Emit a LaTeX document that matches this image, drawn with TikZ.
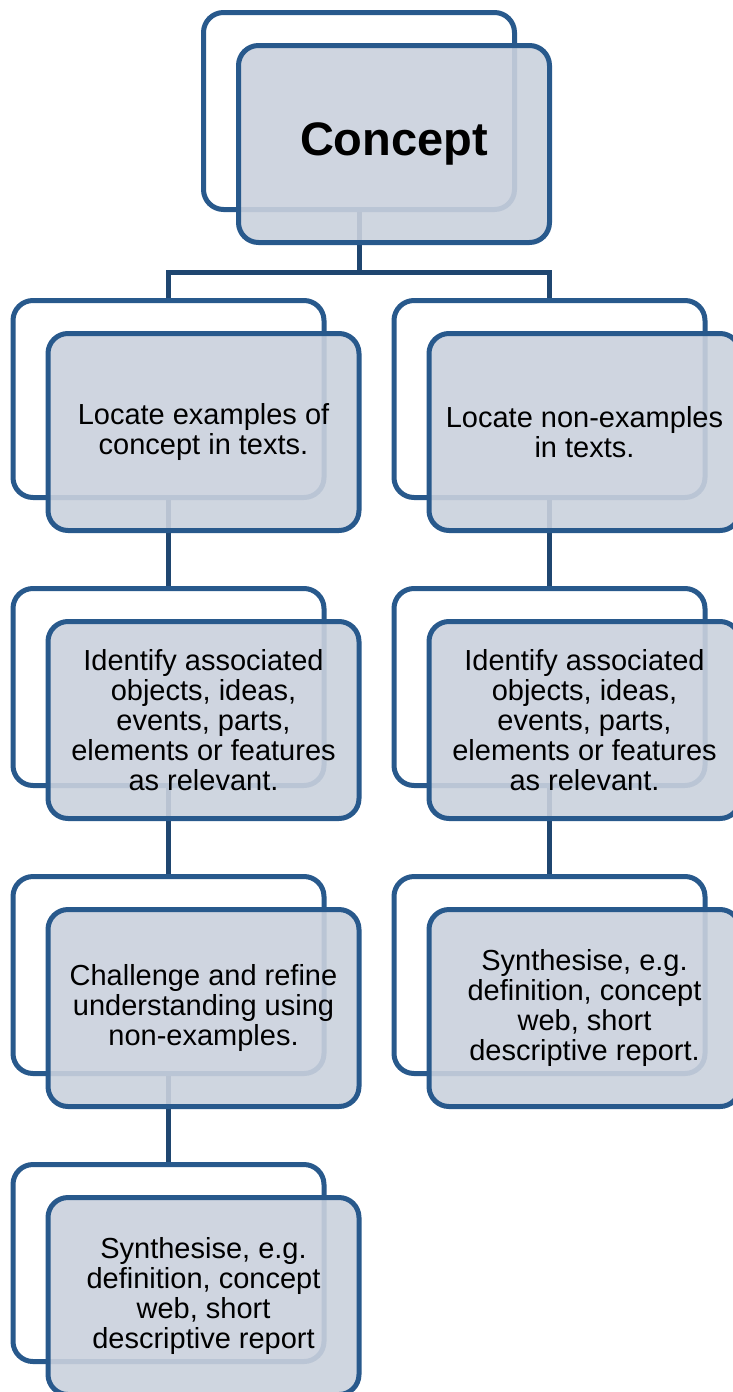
\documentclass[tikz,border=0pt]{standalone}
\usepackage{fontspec}
\setmainfont{Liberation Sans}
\usetikzlibrary{positioning}
\definecolor{cardedge}{RGB}{40,89,140}
\definecolor{cardfill}{RGB}{202,209,221}
\definecolor{linkline}{RGB}{31,70,112}
\tikzset{
    % Plain outline card lying behind each step
    back card/.style={
        draw=cardedge, line width=5pt, rounded corners=20pt, fill=white,
        minimum width=311pt, minimum height=197pt},
%
    % Shaded card in front, carrying the text
    front card/.style={
        draw=cardedge, line width=5pt, rounded corners=20pt,
        fill=cardfill, fill opacity=0.9, text opacity=1,
        minimum width=311pt, minimum height=197pt, align=center,
        xshift=35pt, yshift=-33pt,
        font=\fontsize{29}{30}\selectfont},
%
    % Tree connectors
    link/.style={draw=linkline, line width=5pt}}

\begin{document}
\begin{tikzpicture}[x=1pt, y=-1pt]
\useasboundingbox (0,0) rectangle (732,1392);

\node [back card] (concept back) at (359,111) {};
\node [back card] (examples back) at (168.5,399) {};
\node [back card] (identify left back) at (168.5,687) {};
\node [back card] (challenge back) at (168.5,975) {};
\node [back card] (synth left back) at (168.5,1263) {};
\node [back card] (nonexamples back) at (549.5,399) {};
\node [back card] (identify right back) at (549.5,687) {};
\node [back card] (synth right back) at (549.5,975) {};

% tree links, hidden in part by the front cards
\draw [link] (concept back.south) -- ++(0,60) coordinate (split);
\draw [link] (examples back.north) |- (split) -| (nonexamples back.north);
\draw [link] (examples back.south) -- (identify left back.north);
\draw [link] (identify left back.south) -- (challenge back.north);
\draw [link] (challenge back.south) -- (synth left back.north);
\draw [link] (nonexamples back.south) -- (identify right back.north);
\draw [link] (identify right back.south) -- (synth right back.north);

\node [front card, font=\bfseries\fontsize{47}{52}\selectfont]
    (concept) at (concept back) {Concept};
\node [front card] (examples) at (examples back)
    {Locate examples of\\concept in texts.};
\node [front card] (identify left) at (identify left back)
    {Identify associated\\objects, ideas,\\events, parts,\\elements or features\\as relevant.};
\node [front card] (challenge) at (challenge back)
    {Challenge and refine\\understanding using\\non-examples.};
\node [front card] (synth left) at (synth left back)
    {Synthesise, e.g.\\definition, concept\\web, short\\descriptive report};
\node [front card] (nonexamples) at (nonexamples back)
    {Locate non-examples\\in texts.};
\node [front card] (identify right) at (identify right back)
    {Identify associated\\objects, ideas,\\events, parts,\\elements or features\\as relevant.};
\node [front card] (synth right) at (synth right back)
    {Synthesise, e.g.\\definition, concept\\web, short\\descriptive report.};

\end{tikzpicture}
\end{document}
